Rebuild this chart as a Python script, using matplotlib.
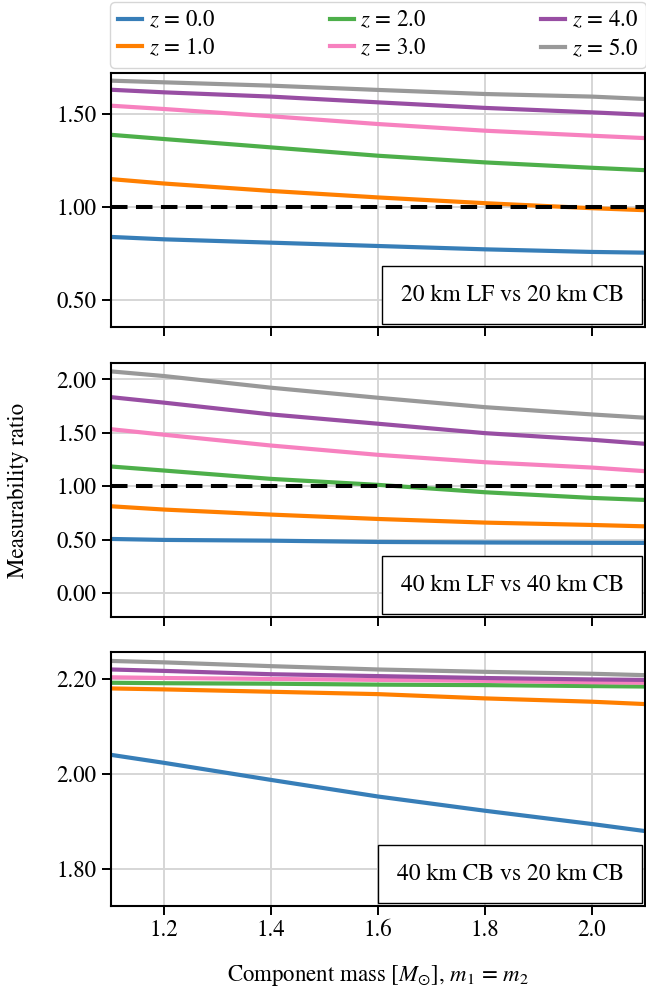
import numpy as np
import matplotlib
matplotlib.use("Agg")
import matplotlib.pyplot as plt
from matplotlib.offsetbox import AnchoredText
from matplotlib.ticker import FormatStrFormatter, MultipleLocator

plt.rcParams['font.family'] = ['STIXGeneral', 'DejaVu Serif']
plt.rcParams['mathtext.fontset'] = 'stix'

mass = [1.1, 1.2, 1.4, 1.6, 1.8, 2.0, 2.1]
redshifts = [0.0, 1.0, 2.0, 3.0, 4.0, 5.0]
colors = ['#377eb8', '#ff7f00', '#4daf4a', '#f781bf', '#984ea3', '#999999']

# 20 km LF vs 20 km CB
lf20_z0 = [0.838, 0.825, 0.807, 0.789, 0.771, 0.757, 0.753]
lf20_z1 = [1.150, 1.126, 1.086, 1.051, 1.020, 0.993, 0.982]
lf20_z2 = [1.389, 1.366, 1.321, 1.276, 1.240, 1.211, 1.198]
lf20_z3 = [1.546, 1.528, 1.489, 1.447, 1.411, 1.384, 1.371]
lf20_z4 = [1.632, 1.618, 1.595, 1.564, 1.534, 1.510, 1.497]
lf20_z5 = [1.681, 1.672, 1.654, 1.631, 1.609, 1.595, 1.582]

# 40 km LF vs 40 km CB
lf40_z0 = [0.507, 0.498, 0.491, 0.479, 0.474, 0.471, 0.470]
lf40_z1 = [0.813, 0.782, 0.735, 0.694, 0.660, 0.638, 0.625]
lf40_z2 = [1.185, 1.147, 1.069, 1.013, 0.944, 0.891, 0.872]
lf40_z3 = [1.534, 1.482, 1.381, 1.294, 1.225, 1.175, 1.141]
lf40_z4 = [1.834, 1.782, 1.672, 1.585, 1.497, 1.435, 1.397]
lf40_z5 = [2.075, 2.031, 1.922, 1.828, 1.740, 1.672, 1.641]

# 40 km CB vs 20 km CB
cb_z0 = [2.040, 2.023, 1.987, 1.952, 1.922, 1.894, 1.879]
cb_z1 = [2.180, 2.178, 2.173, 2.168, 2.159, 2.152, 2.147]
cb_z2 = [2.192, 2.191, 2.190, 2.188, 2.187, 2.185, 2.184]
cb_z3 = [2.2035, 2.202, 2.200, 2.198, 2.196, 2.193, 2.192]
cb_z4 = [2.220, 2.217, 2.210, 2.206, 2.202, 2.199, 2.198]
cb_z5 = [2.238, 2.235, 2.227, 2.220, 2.215, 2.211, 2.208]

panels = [
    ("20 km LF vs 20 km CB", [lf20_z0, lf20_z1, lf20_z2, lf20_z3, lf20_z4, lf20_z5], True),
    ("40 km LF vs 40 km CB", [lf40_z0, lf40_z1, lf40_z2, lf40_z3, lf40_z4, lf40_z5], True),
    ("40 km CB vs 20 km CB", [cb_z0, cb_z1, cb_z2, cb_z3, cb_z4, cb_z5], False),
]
ylims = [(0.352, 1.725), (-0.225, 2.156), (1.7206, 2.2575)]
ysteps = [0.5, 0.5, 0.2]

FS = 16.5
fig = plt.figure(figsize=(6.46, 9.86), dpi=100)
W, H = 646, 986
left, right = 110.7, 645.3
tops = [72.5, 362.7, 651.7]
ph = 254.5
axes = []
for i in range(3):
    ax = fig.add_axes([left / W, 1 - (tops[i] + ph) / H, (right - left) / W, ph / H])
    axes.append(ax)

for i, (ax, (title, series, dashed)) in enumerate(zip(axes, panels)):
    ax.grid(True, color='#d6d6d6', linewidth=1.4, zorder=0)
    ax.set_axisbelow(True)
    if dashed:
        ax.axhline(1.0, color='black', linestyle=(0, (4.1, 2.1)), linewidth=2.9, zorder=3)
    for z, vals, c in zip(redshifts, series, colors):
        ax.plot(mass, vals, color=c, linewidth=3.0, label=r'$z$ = %.1f' % z, zorder=2)
    ax.set_xlim(1.1, 2.1)
    ax.set_ylim(*ylims[i])
    ax.yaxis.set_major_locator(MultipleLocator(ysteps[i]))
    ax.yaxis.set_major_formatter(FormatStrFormatter('%.2f'))
    ax.xaxis.set_major_locator(MultipleLocator(0.2))
    ax.xaxis.set_major_formatter(FormatStrFormatter('%.1f'))
    ax.tick_params(direction='out', length=6.5, width=1.4, labelsize=FS, pad=3.5)
    for sp in ax.spines.values():
        sp.set_linewidth(1.5)
    if i < 2:
        ax.tick_params(labelbottom=False)
    at = AnchoredText(title, loc='lower right', prop=dict(size=17), frameon=True,
                      pad=0.78, borderpad=0.13)
    at.patch.set_boxstyle('square,pad=0')
    at.patch.set_linewidth(1.0)
    at.patch.set_edgecolor('black')
    at.zorder = 5
    ax.add_artist(at)

axes[0].legend(loc='lower left', bbox_to_anchor=(-0.001, 1.018, 1.002, 0.2), mode='expand',
               ncol=3, fontsize=FS, handlelength=1.05, handletextpad=0.28,
               borderaxespad=0.0, labelspacing=0.25, borderpad=0.35, frameon=True)

fig.text(18 / W, 1 - 490 / H, 'Measurability ratio', rotation=90, ha='center', va='center',
         fontsize=FS)
fig.text(378 / W, 1 - 980.5 / H, r'Component mass [$M_{\odot}$], $m_1$ = $m_2$',
         ha='center', va='baseline', fontsize=FS)

fig.savefig('out.png', dpi=100)
